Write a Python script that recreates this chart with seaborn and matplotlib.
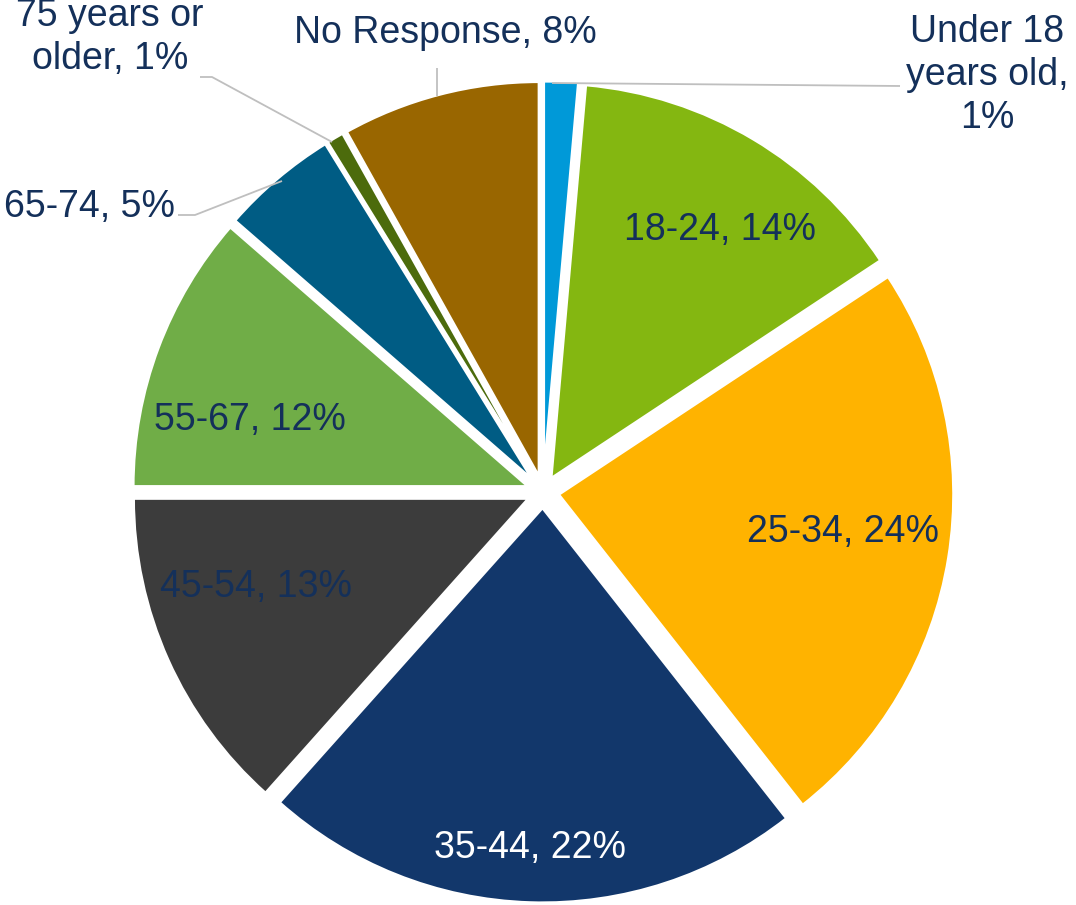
import matplotlib
matplotlib.use("Agg")
import matplotlib.pyplot as plt
import seaborn as sns

# age groups, clockwise from 12 o'clock
groups = ["Under 18\nyears old", "18-24", "25-34", "35-44", "45-54",
          "55-67", "65-74", "75 years or\nolder", "No Response"]
shares = [1.4, 14.3, 23.7, 22.2, 13.4, 11.4, 4.8, 0.7, 8.1]
shown_pct = [1, 14, 24, 22, 13, 12, 5, 1, 8]

colors = ["#0099D8", "#84B711", "#FFB300", "#12376B", "#3C3C3C",
          "#70AD47", "#005C84", "#4C6B0C", "#996600"]

sns.set_theme(style="white")
plt.rcParams["font.family"] = ["Liberation Sans", "DejaVu Sans"]

W, H = 1076, 905
cx, cy, R = 543, 492, 395   # pie centre / radius in pixels


def px(x, y):
    # pixel position -> data coords (pie radius = 1)
    return (x - cx) / R, (cy - y) / R


fig = plt.figure(figsize=(W / 100, H / 100), dpi=100)
ax = fig.add_axes([0, 0, 1, 1])
ax.pie(
    shares,
    colors=sns.color_palette(colors),
    startangle=90,
    counterclock=False,
    radius=1,
    explode=[0.04] * len(shares),
    wedgeprops=dict(edgecolor="white", linewidth=2),
)
ax.set_xlim(-cx / R, (W - cx) / R)
ax.set_ylim(-(H - cy) / R, cy / R)
ax.set_aspect("auto")
ax.axis("off")

txt_color = "#14305A"
fs = 27

# label centres (pixels) and alignment
label_pos = [(987, 75, "center"), (720, 230, "center"), (843, 532, "center"),
             (530, 848, "center"), (256, 587, "center"), (250, 420, "center"),
             (175, 207, "right"), (110, 38, "center"), (445, 33, "center")]
inside_color = [txt_color] * 9
inside_color[3] = "white"

for name, pct, (x, y, ha), c in zip(groups, shown_pct, label_pos, inside_color):
    lab = f"{name}, {pct}%"
    if name.startswith("Under"):
        lab = "Under 18\nyears old,\n1%"
    if name.startswith("75"):
        lab = "75 years or\nolder, 1%"
    ax.text(*px(x, y), lab, ha=ha, va="center", fontsize=fs, color=c,
            linespacing=1.25, multialignment="center")

# leader lines
lc = "#BFBFBF"
leaders = [
    [(552, 83), (900, 86)],
    [(178, 215), (195, 215), (282, 181)],
    [(200, 77), (212, 77), (332, 142)],
    [(437, 68), (437, 96)],
]
for pts in leaders:
    xs, ys = zip(*[px(a, b) for a, b in pts])
    ax.plot(xs, ys, color=lc, lw=1.3, solid_capstyle="butt")

fig.savefig("out.png", dpi=100, facecolor="white")
